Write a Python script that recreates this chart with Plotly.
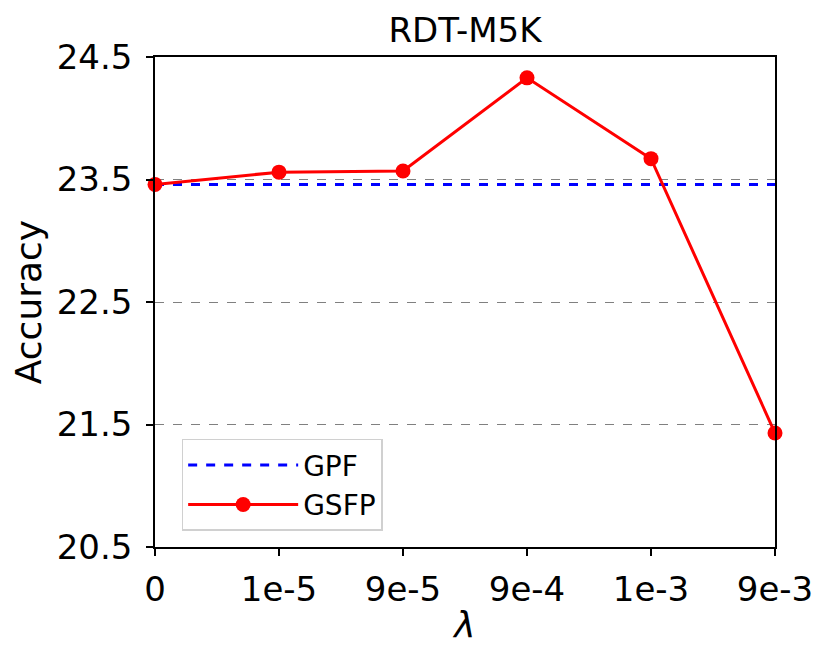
import plotly.graph_objects as go

# lambda values (categorical x axis)
lambdas = ["0", "1e-5", "9e-5", "9e-4", "1e-3", "9e-3"]

# Accuracy per method
gpf_acc = [23.46, 23.46, 23.46, 23.46, 23.46, 23.46]
gsfp_acc = [23.46, 23.56, 23.57, 24.33, 23.67, 21.43]

y_ticks = [20.5, 21.5, 22.5, 23.5, 24.5]

FONT = "DejaVu Sans"

fig = go.Figure()
fig.add_trace(go.Scatter(
    x=lambdas, y=gpf_acc, name="GPF", mode="lines",
    line=dict(color="blue", width=3, dash="dash"),
    cliponaxis=False,
))
fig.add_trace(go.Scatter(
    x=lambdas, y=gsfp_acc, name="GSFP", mode="lines+markers",
    line=dict(color="red", width=3),
    marker=dict(color="red", size=15),
    cliponaxis=False,
))

# page body has an 8px margin, so margins are shifted to match
fig.update_layout(
    width=829, height=658,
    margin=dict(l=145, r=62, t=49, b=119),
    paper_bgcolor="white", plot_bgcolor="white",
    font=dict(family=FONT, size=34, color="black"),
    title=dict(text="RDT-M5K", x=0.5, xanchor="center", xref="paper",
               y=0.967, yanchor="middle", font=dict(size=34)),
    legend=dict(x=0.043, y=0.033, xanchor="left", yanchor="bottom",
                bordercolor="#d0d0d0", borderwidth=1.5, bgcolor="white",
                font=dict(size=28), itemwidth=110, tracegroupgap=4),
    showlegend=True,
)
fig.update_xaxes(
    type="category", range=[0, 5],
    showline=True, linecolor="black", linewidth=1.5, mirror=True,
    ticks="outside", ticklen=7, tickwidth=1.5, tickcolor="black",
    ticklabelstandoff=4,
    showgrid=False, zeroline=False,
    title=dict(text="<i>λ</i>", font=dict(size=36), standoff=4),
)
fig.update_yaxes(
    range=[20.5, 24.5], tickvals=y_ticks, ticktext=[f"{v:.1f}" for v in y_ticks],
    showline=True, linecolor="black", linewidth=1.5, mirror=True,
    ticks="outside", ticklen=7, tickwidth=1.5, tickcolor="black",
    ticklabelstandoff=7,
    showgrid=True, gridcolor="gray", gridwidth=0.8, griddash="dash",
    zeroline=False,
    title=dict(text="Accuracy", font=dict(size=36), standoff=12),
)

fig.write_html("out.html")
